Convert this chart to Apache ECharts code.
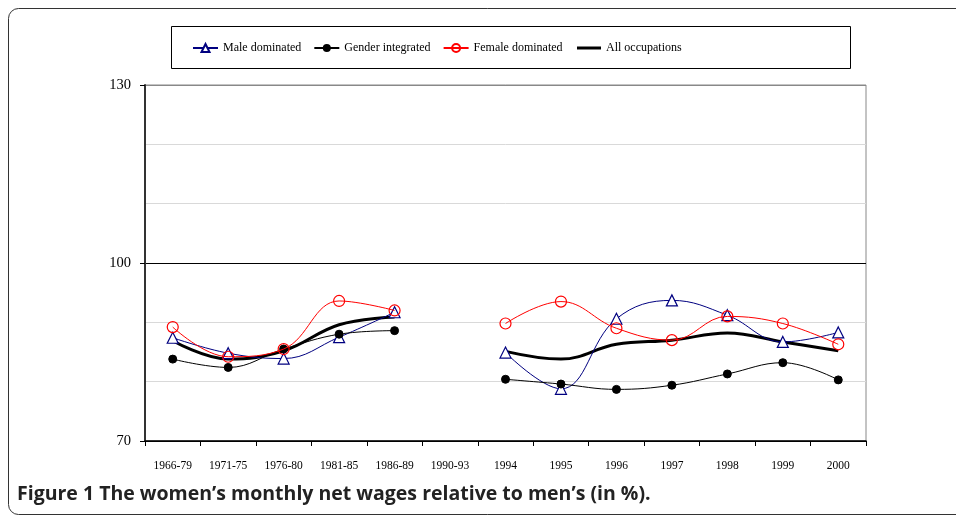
<!DOCTYPE html>
<html>
<head>
<meta charset="utf-8">
<script src="https://cdn.jsdelivr.net/npm/echarts@6/dist/echarts.min.js"></script>
<style>
  html, body { margin: 0; padding: 0; background: #fff; }
  #chart { width: 956px; height: 516px; }
</style>
</head>
<body>
<div id="chart"></div>
<script>
var periods = ["1966-79", "1971-75", "1976-80", "1981-85", "1986-89", "1990-93",
  "1994", "1995", "1996", "1997", "1998", "1999", "2000"];
var maleDominated = [87.4, 84.8, 83.9, 87.5, 91.7, null, 84.9, 78.8, 90.6, 93.7, 91.2, 86.7, 88.3];
var genderIntegrated = [83.8, 82.4, 85.5, 88.0, 88.6, null, 80.4, 79.6, 78.7, 79.4, 81.3, 83.2, 80.3];
var femaleDominated = [89.2, 84.2, 85.5, 93.6, 92.0, null, 89.8, 93.5, 89.0, 87.0, 91.0, 89.8, 86.3];
var allOccupations = [86.9, 83.8, 85.2, 89.6, 90.9, null, 85.1, 83.8, 86.3, 87.0, 88.2, 86.7, 85.2];
var yLabels = [70, 100, 130];

var serif = "'Liberation Serif', 'DejaVu Serif', serif";
var chart = echarts.init(document.getElementById("chart"));

chart.setOption({
  animation: false,
  backgroundColor: "#fff",
  graphic: [
    {
      type: "rect",
      shape: { x: 8.5, y: 8.5, width: 1000, height: 506, r: 10 },
      style: { fill: "none", stroke: "#333", lineWidth: 1 },
      z: -1
    },
    {
      type: "rect",
      shape: { x: 171.5, y: 26.5, width: 679, height: 42 },
      style: { fill: "none", stroke: "#000", lineWidth: 1 },
      z: -1
    },
    {
      type: "text",
      left: 17,
      top: 484,
      style: {
        text: "Figure 1 The women\u2019s monthly net wages relative to men\u2019s (in %).",
        font: "bold 19.5px 'Open Sans', 'Noto Sans', sans-serif",
        fill: "#222"
      }
    }
  ],
  legend: [
    {
      left: 187,
      top: 37,
      itemWidth: 25,
      itemHeight: 10,
      itemGap: 12,
      textStyle: { fontFamily: serif, fontSize: 12, color: "#000" },
      data: ["Male dominated", "Gender integrated", "Female dominated"]
    },
    {
      left: 572,
      top: 37,
      itemWidth: 24,
      itemHeight: 3,
      icon: "rect",
      textStyle: { fontFamily: serif, fontSize: 12, color: "#000" },
      data: ["All occupations"]
    }
  ],
  grid: { left: 145, right: 90, top: 85, bottom: 75, show: true, borderColor: "#888", borderWidth: 1 },
  xAxis: {
    type: "category",
    data: periods,
    boundaryGap: true,
    axisLine: { lineStyle: { color: "#000", width: 1.5 } },
    axisTick: { show: true, length: 5, lineStyle: { color: "#000" } },
    axisLabel: { color: "#000", fontFamily: serif, fontSize: 11.5, margin: 19, interval: 0 },
    splitLine: { show: false }
  },
  yAxis: {
    type: "value",
    min: 70,
    max: 130,
    interval: 30,
    axisLine: { show: true, lineStyle: { color: "#333", width: 2 } },
    axisTick: { show: true, length: 5, lineStyle: { color: "#000" } },
    axisLabel: {
      color: "#000", fontFamily: serif, fontSize: 14.5, margin: 14,
      formatter: function (v) { return yLabels.indexOf(v) >= 0 ? String(v) : ""; }
    },
    splitLine: { show: true, lineStyle: { color: ["#000", "#000", "#888"], width: 1.2 } },
    minorTick: { show: false, splitNumber: 3 },
    minorSplitLine: { show: true, lineStyle: { color: "#d9d9d9", width: 1 } }
  },
  series: [
    {
      name: "Male dominated",
      type: "line",
      data: maleDominated,
      smooth: 0.4,
      connectNulls: false,
      symbol: "triangle",
      symbolSize: 11,
      itemStyle: { color: "#fff", borderColor: "#000080", borderWidth: 1.2 },
      lineStyle: { color: "#000080", width: 1 },
      z: 3
    },
    {
      name: "Gender integrated",
      type: "line",
      data: genderIntegrated,
      smooth: 0.4,
      connectNulls: false,
      symbol: "circle",
      symbolSize: 8,
      itemStyle: { color: "#000", borderColor: "#000" },
      lineStyle: { color: "#000", width: 1 },
      z: 3
    },
    {
      name: "Female dominated",
      type: "line",
      data: femaleDominated,
      smooth: 0.4,
      connectNulls: false,
      symbol: "circle",
      symbolSize: 11,
      itemStyle: { color: "rgba(255,255,255,0)", borderColor: "#ff0000", borderWidth: 1.2 },
      lineStyle: { color: "#ff0000", width: 1 },
      z: 4
    },
    {
      name: "All occupations",
      type: "line",
      data: allOccupations,
      smooth: 0.4,
      connectNulls: false,
      symbol: "none",
      itemStyle: { color: "#000" },
      lineStyle: { color: "#000", width: 3 },
      z: 2
    }
  ]
});
</script>
</body>
</html>
